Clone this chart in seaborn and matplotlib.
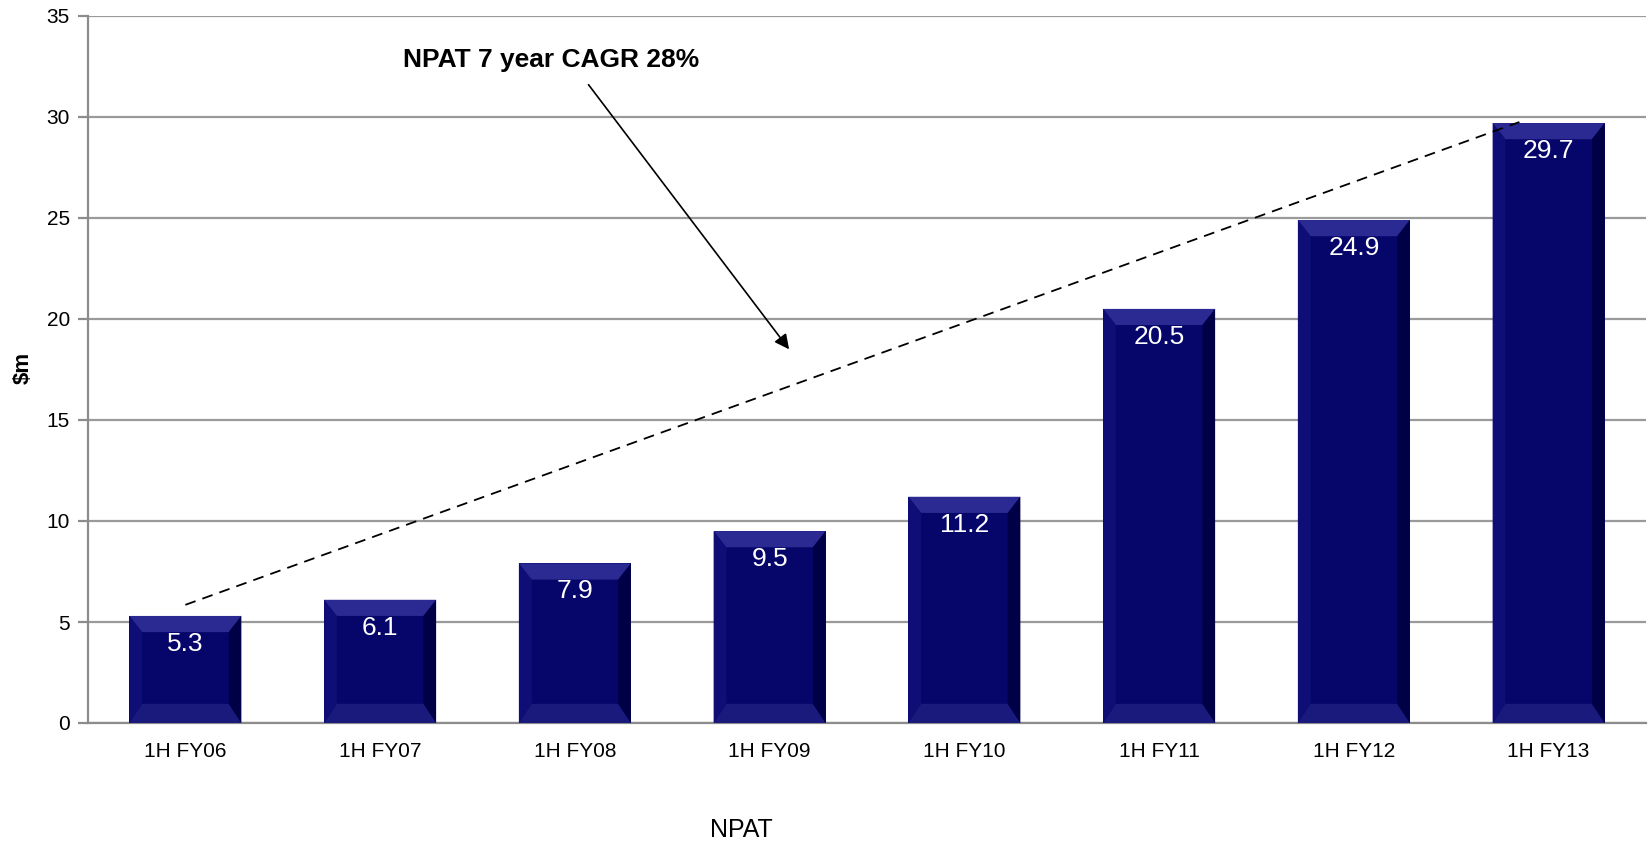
import matplotlib
matplotlib.use("Agg")
import matplotlib.pyplot as plt
import seaborn as sns
import pandas as pd
from matplotlib.patches import Polygon

# NPAT by half-year ($m)
periods = ["1H FY06", "1H FY07", "1H FY08", "1H FY09", "1H FY10", "1H FY11", "1H FY12", "1H FY13"]
npat = [5.3, 6.1, 7.9, 9.5, 11.2, 20.5, 24.9, 29.7]

# trend line endpoints (category position, value)
trend_x = [0.0, 6.85]
trend_y = [5.85, 29.75]

df = pd.DataFrame({"period": periods, "npat": npat})

sns.set_theme(style="white")
plt.rcParams["font.family"] = ["Liberation Sans", "DejaVu Sans"]
plt.rcParams["text.color"] = "black"

fig = plt.figure(figsize=(16.48, 8.46), dpi=100)
ax = fig.add_axes([88 / 1648, 1 - 723 / 846, 1558 / 1648, (723 - 16) / 846])

navy = "#06066a"
sns.barplot(data=df, x="period", y="npat", color=navy, width=0.575,
            saturation=1, ax=ax, zorder=3, edgecolor="none")

ax.set_ylim(0, 35)
ax.set_xlim(-0.5, len(periods) - 0.5)
ax.set_yticks(range(0, 36, 5))
ax.yaxis.grid(True, color="#9a9a9a", linewidth=1.6, zorder=0)
ax.set_axisbelow(True)

# bevel shading on each bar
bx = 0.065
by_top = 0.8
by_bot = 0.95
for p in ax.patches:
    x0 = p.get_x()
    w = p.get_width()
    h = p.get_height()
    x1 = x0 + w
    bt = min(by_top, h * 0.3)
    bb = min(by_bot, h * 0.3)
    # top bevel (lighter)
    ax.add_patch(Polygon([(x0, h), (x1, h), (x1 - bx, h - bt), (x0 + bx, h - bt)],
                         closed=True, facecolor="#2a2a92", edgecolor="none", zorder=4))
    # bottom bevel
    ax.add_patch(Polygon([(x0, 0), (x1, 0), (x1 - bx, bb), (x0 + bx, bb)],
                         closed=True, facecolor="#1a1a7c", edgecolor="none", zorder=4))
    # left bevel
    ax.add_patch(Polygon([(x0, 0), (x0 + bx, bb), (x0 + bx, h - bt), (x0, h)],
                         closed=True, facecolor="#0e0e76", edgecolor="none", zorder=4))
    # right bevel (darker)
    ax.add_patch(Polygon([(x1, 0), (x1 - bx, bb), (x1 - bx, h - bt), (x1, h)],
                         closed=True, facecolor="#000046", edgecolor="none", zorder=4))

# value labels inside the bars
for i, v in enumerate(npat):
    ax.annotate(f"{v}", xy=(i, v), xytext=(0, -28), textcoords="offset pixels",
                ha="center", va="center", color="white", fontsize=19, zorder=6)

# trend line
ax.plot(trend_x, trend_y, color="black", linestyle=(0, (6, 4)), linewidth=1.3, zorder=5)

# callout text and arrow
ax.text(1.88, 32.8, "NPAT 7 year CAGR 28%", ha="center", va="center",
        fontsize=19, fontweight="bold", color="black", zorder=6)
ax.annotate("", xy=(3.1, 18.5), xytext=(2.07, 31.6),
            arrowprops=dict(arrowstyle="-|>", color="black", lw=1.2,
                            mutation_scale=22, shrinkA=0, shrinkB=0),
            zorder=6)

# axes styling
for s in ["top", "right"]:
    ax.spines[s].set_visible(False)
for s in ["left", "bottom"]:
    ax.spines[s].set_color("#8c8c8c")
    ax.spines[s].set_linewidth(1.6)

ax.set_xticks(range(len(periods)))
ax.set_xticklabels(periods, fontsize=15)
ax.tick_params(axis="x", length=0, pad=14, labelcolor="black")
ax.set_xticks([i - 0.5 for i in range(len(periods) + 1)], minor=True)
ax.tick_params(axis="x", which="minor", length=7, width=1.6, color="#8c8c8c", direction="out")
ax.tick_params(axis="y", length=7, width=1.6, color="#8c8c8c", direction="out",
               labelsize=15, pad=6, left=True, labelcolor="black")
ax.set_xlabel("")
ax.set_ylabel("")

fig.text(23 / 1648, 1 - 368 / 846, "$m", ha="center", va="center", rotation=90,
         fontsize=16, fontweight="bold", color="black")
fig.text(741 / 1648, 1 - 830 / 846, "NPAT", ha="center", va="center", fontsize=18,
         color="black")

fig.savefig("out.png", dpi=100)
